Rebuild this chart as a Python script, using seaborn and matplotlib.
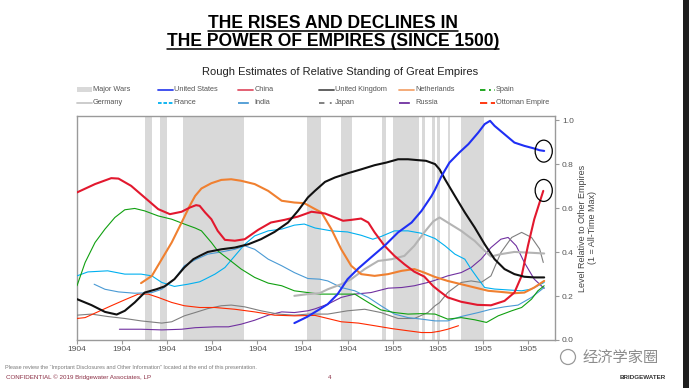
import matplotlib
matplotlib.use("Agg")
import matplotlib.pyplot as plt
import seaborn as sns
from matplotlib.patches import Ellipse, Rectangle
from matplotlib.lines import Line2D

# ---- data ----
china_years = [1500, 1520, 1538, 1546, 1560, 1575, 1590, 1603, 1616, 1625, 1632, 1636, 1642, 1649,
               1656, 1664, 1675, 1686, 1701, 1715, 1730, 1745, 1760, 1775, 1786, 1795, 1804, 1815,
               1823, 1830, 1841, 1852, 1863, 1874, 1885, 1895, 1902, 1911, 1926, 1944, 1959, 1974,
               1985, 1993, 2000, 2007, 2017]
china_vals = [.672, .710, .737, .735, .702, .649, .596, .573, .584, .603, .614, .611, .581, .550,
              .497, .456, .452, .459, .502, .535, .547, .562, .584, .576, .558, .543, .547, .553,
              .535, .490, .429, .383, .345, .311, .289, .245, .222, .194, .174, .160, .158, .178,
              .216, .292, .429, .550, .679]

us_years = [1741, 1755, 1769, 1778, 1789, 1800, 1812, 1826, 1841, 1856, 1871, 1882, 1893, 1897,
            1904, 1913, 1924, 1934, 1945, 1952, 1958, 1963, 1974, 1985, 1996, 2007, 2013, 2018]
us_vals = [.077, .105, .140, .163, .209, .277, .326, .376, .429, .490, .535, .588, .655, .685,
           .745, .808, .854, .892, .945, .983, .998, .975, .937, .899, .884, .872, .864, .861]

uk_years = [1500, 1516, 1531, 1544, 1553, 1564, 1575, 1588, 1597, 1608, 1619, 1629, 1636, 1645,
            1660, 1675, 1690, 1704, 1719, 1734, 1745, 1756, 1764, 1775, 1786, 1800, 1815, 1830,
            1843, 1856, 1867, 1878, 1887, 1897, 1902, 1908, 1919, 1930, 1941, 1952, 1963, 1974,
            1985, 1996, 2007, 2018]
uk_vals = [.186, .159, .128, .116, .133, .171, .216, .231, .244, .277, .330, .368, .383, .401,
           .413, .421, .436, .459, .492, .535, .588, .649, .680, .720, .740, .759, .777, .796,
           .808, .823, .823, .819, .816, .801, .777, .732, .656, .581, .512, .436, .368, .323,
           .300, .288, .285, .285]

nl_years = [1571, 1583, 1594, 1605, 1616, 1625, 1631, 1638, 1649, 1660, 1671, 1682, 1697, 1712,
            1727, 1741, 1752, 1764, 1771, 1782, 1793, 1804, 1815, 1830, 1845, 1860, 1874, 1885,
            1897, 1911, 1926, 1941, 1956, 1970, 1985, 1996, 2007, 2018]
nl_vals = [.259, .292, .368, .444, .535, .611, .656, .690, .714, .729, .732, .725, .710, .679,
           .634, .626, .623, .596, .581, .505, .413, .338, .300, .292, .300, .315, .323, .307,
           .287, .269, .254, .239, .224, .219, .213, .216, .239, .269]

spain_years = [1500, 1509, 1520, 1531, 1542, 1553, 1564, 1575, 1590, 1605, 1619, 1631, 1638, 1649,
               1656, 1668, 1682, 1697, 1712, 1727, 1741, 1756, 1769, 1778, 1793, 1808, 1823, 1837,
               1852, 1867, 1882, 1897, 1902, 1911, 1926, 1941, 1954, 1967, 1982, 1993, 2004, 2011,
               2018]
spain_vals = [.247, .353, .444, .505, .558, .593, .599, .588, .565, .550, .528, .510, .497, .444,
              .406, .368, .323, .285, .259, .247, .224, .216, .209, .209, .209, .209, .171, .137,
              .125, .118, .120, .118, .110, .095, .102, .092, .080, .110, .133, .148, .186, .224,
              .247]

germany_years = [1741, 1756, 1769, 1778, 1793, 1804, 1819, 1834, 1849, 1863, 1874, 1885, 1895,
                 1902, 1911, 1926, 1941, 1952, 1959, 1970, 1985, 2000, 2018]
germany_vals = [.201, .209, .213, .231, .254, .277, .323, .360, .368, .383, .429, .490, .540,
                .558, .535, .497, .451, .406, .380, .391, .401, .398, .394]

france_years = [1500, 1512, 1534, 1553, 1571, 1583, 1594, 1608, 1623, 1636, 1642, 1653, 1664,
                1675, 1686, 1697, 1712, 1727, 1741, 1752, 1764, 1782, 1800, 1815, 1828, 1837,
                1852, 1867, 1882, 1897, 1908, 1919, 1930, 1937, 1945, 1952, 1963, 1978, 1993,
                2004, 2018]
france_vals = [.292, .310, .315, .300, .300, .292, .262, .244, .254, .265, .277, .300, .330,
               .383, .436, .474, .497, .505, .523, .528, .510, .497, .492, .477, .459, .471,
               .497, .497, .486, .462, .429, .391, .368, .323, .277, .239, .232, .228, .224,
               .232, .262]

india_years = [1519, 1531, 1546, 1564, 1583, 1594, 1608, 1619, 1631, 1645, 1660, 1675, 1686,
               1697, 1712, 1727, 1741, 1756, 1769, 1778, 1793, 1808, 1823, 1837, 1852, 1867,
               1882, 1897, 1911, 1926, 1945, 1959, 1974, 1989, 2004, 2018]
india_vals = [.254, .231, .219, .213, .216, .231, .277, .338, .365, .391, .401, .413, .429,
              .413, .368, .338, .307, .280, .277, .269, .239, .224, .194, .156, .118, .102,
              .095, .087, .087, .107, .125, .140, .151, .159, .194, .239]

japan_years = [1500, 1516, 1534, 1553, 1571, 1594, 1605, 1619, 1631, 1645, 1660, 1671, 1686,
               1704, 1723, 1741, 1756, 1769, 1778, 1800, 1819, 1837, 1856, 1874, 1889, 1897,
               1902, 1911, 1926, 1937, 1948, 1959, 1970, 1982, 1993, 2004, 2013, 2017]
japan_vals = [.113, .118, .107, .098, .087, .077, .083, .110, .125, .143, .156, .159, .151,
              .133, .118, .113, .118, .118, .118, .133, .140, .125, .098, .098, .125, .156,
              .170, .216, .262, .269, .262, .292, .398, .467, .490, .467, .414, .353]

russia_years = [1547, 1571, 1594, 1616, 1631, 1653, 1668, 1682, 1697, 1712, 1727, 1741, 1756,
                1764, 1778, 1793, 1808, 1826, 1845, 1860, 1874, 1889, 1897, 1911, 1926, 1937,
                1948, 1959, 1970, 1978, 1987, 1996, 2007, 2018]
russia_vals = [.049, .049, .046, .049, .056, .060, .060, .072, .090, .113, .128, .125, .133,
               .142, .163, .194, .209, .216, .236, .239, .247, .262, .272, .292, .307, .330,
               .368, .421, .459, .467, .429, .353, .277, .235]

ottoman_years = [1500, 1509, 1523, 1538, 1553, 1568, 1579, 1590, 1605, 1619, 1636, 1653, 1675,
                 1697, 1719, 1741, 1764, 1778, 1793, 1812, 1830, 1849, 1867, 1882, 1893, 1902,
                 1911, 1923]
ottoman_vals = [.098, .102, .128, .156, .183, .209, .209, .194, .171, .156, .148, .148, .140,
                .128, .113, .110, .112, .098, .083, .077, .065, .052, .042, .034, .034, .040,
                .049, .065]

# major wars (start, end year)
war_starts = [1575, 1592, 1618, 1755, 1793, 1838, 1850, 1882, 1894, 1899, 1911, 1926]
war_ends = [1583, 1600, 1685, 1770, 1805, 1843, 1879, 1886, 1897, 1902, 1914, 1951]

x_ticks = [1500, 1550, 1600, 1650, 1700, 1750, 1800, 1850, 1900, 1950, 2000]
x_labels = ["1904"] * 7 + ["1905"] * 4
y_ticks = [0.0, 0.2, 0.4, 0.6, 0.8, 1.0]

# name, years, values, colour, width
series = [
    ("Russia", russia_years, russia_vals, "#7030a0", 0.8),
    ("Japan", japan_years, japan_vals, "#7f7f7f", 0.8),
    ("Ottoman Empire", ottoman_years, ottoman_vals, "#ff2a00", 0.8),
    ("India", india_years, india_vals, "#4a9ad4", 0.8),
    ("France", france_years, france_vals, "#00b0f0", 0.8),
    ("Spain", spain_years, spain_vals, "#10a010", 0.8),
    ("Germany", germany_years, germany_vals, "#b4b4b4", 1.5),
    ("Netherlands", nl_years, nl_vals, "#f08030", 1.5),
    ("China", china_years, china_vals, "#e2182e", 1.5),
    ("United Kingdom", uk_years, uk_vals, "#111111", 1.5),
    ("United States", us_years, us_vals, "#1f2ff5", 1.5),
]

sns.set_theme(style="white")
plt.rcParams['font.family'] = ['Liberation Sans', 'DejaVu Sans']

W, H = 689, 388
fig = plt.figure(figsize=(W / 100, H / 100), dpi=100)
fig.patch.set_facecolor("white")


def fx(px):
    return px / W


def fy(py):
    return 1 - py / H


ax = fig.add_axes([fx(77), fy(340), fx(555) - fx(77), fy(116) - fy(340)])

for s, e in zip(war_starts, war_ends):
    ax.axvspan(s, e, color="#d9d9d9", lw=0, zorder=0)

for name, yrs, vals, color, lw in series:
    sns.lineplot(x=yrs, y=vals, color=color, lw=lw, ax=ax, estimator=None, zorder=3)

# circles round the latest US and China readings
ax.add_patch(Ellipse((2017.5, 0.86), 19, 0.10, fill=False, ec="black", lw=0.9, zorder=4))
ax.add_patch(Ellipse((2017.5, 0.681), 19, 0.10, fill=False, ec="black", lw=0.9, zorder=4))

ax.set_xlim(1500, 2030)
ax.set_ylim(0, 1.02)
ax.set_xticks(x_ticks)
ax.set_xticklabels(x_labels)
ax.set_yticks(y_ticks)
ax.set_yticklabels([f"{v:.1f}" for v in y_ticks])
ax.yaxis.tick_right()
ax.yaxis.set_label_position("right")
ax.set_xlabel("")
ax.set_ylabel("Level Relative to Other Empires\n(1 = All-Time Max)", fontsize=6.5,
              color="#444444", labelpad=3, linespacing=1.1)
for sp in ax.spines.values():
    sp.set_color("#9a9a9a")
    sp.set_linewidth(1)
ax.tick_params(axis="x", bottom=True, length=3, width=0.8, color="#9a9a9a",
               labelsize=6, labelcolor="#555555", pad=1.5)
ax.tick_params(axis="y", right=True, left=False, length=3, width=0.8, color="#9a9a9a",
               labelsize=6, labelcolor="#555555", pad=2)
ax.grid(False)

# titles (condensed look: size chosen so the second line is ~334 px wide)
t1 = fig.text(0.483, fy(28.5), "THE RISES AND DECLINES IN", ha="center", va="baseline",
              fontsize=14, color="black", weight="bold")
t2 = fig.text(0.483, fy(46.5), "THE POWER OF EMPIRES (SINCE 1500)", ha="center",
              va="baseline", fontsize=14, color="black", weight="bold")
fig.canvas.draw()
renderer = fig.canvas.get_renderer()
size = 14 * 334 / t2.get_window_extent(renderer).width
t1.set_fontsize(size)
t2.set_fontsize(size)

fig.text(0.493, fy(72), "Rough Estimates of Relative Standing of Great Empires", ha="center",
         va="center", fontsize=8, color="#222222")

fig.canvas.draw()
for t, uy in ((t1, 30.8), (t2, 49.0)):
    bb = t.get_window_extent(renderer)
    fig.add_artist(Line2D([fx(bb.x0), fx(bb.x1)], [fy(uy), fy(uy)], color="black", lw=1.1,
                          transform=fig.transFigure))

# legend, laid out as in the original (row by row)
legend_rows = [
    [("Major Wars", "#d9d9d9", "patch"), ("United States", "#3344ee", "-"),
     ("China", "#e05468", "-"), ("United Kingdom", "#555555", "-"),
     ("Netherlands", "#f3a56e", "-"), ("Spain", "#10a010", (0, (3, 2, 1, 2)))],
    [("Germany", "#c8c8c8", "-"), ("France", "#00b0f0", (0, (2, 1))),
     ("India", "#4a9ad4", (0, (6, 3, 1, 3))), ("Japan", "#777777", (0, (3, 3, 1, 3))),
     ("Russia", "#7030a0", (0, (6, 3, 1, 3))), ("Ottoman Empire", "#ff2a00", (0, (4, 2)))],
]
for r, row in enumerate(legend_rows):
    y = 89.5 + r * 13
    for c, (label, color, style) in enumerate(row):
        x0 = 77 + c * 80.6
        if style == "patch":
            fig.add_artist(Rectangle((fx(x0), fy(y + 2.5)), fx(15), 5 / H, color=color,
                                     transform=fig.transFigure, lw=0))
        else:
            fig.add_artist(Line2D([fx(x0), fx(x0 + 15)], [fy(y), fy(y)], color=color, lw=1.3,
                                  ls=style, transform=fig.transFigure))
        fig.text(fx(x0 + 16), fy(y), label, fontsize=5.3, color="#555555", ha="left",
                 va="center")

# footer
fig.text(fx(5), fy(367.5),
         "Please review the \u201cImportant Disclosures and Other Information\u201d located at the end of this presentation.",
         fontsize=4.0, color="#7a7a7a", ha="left", va="center")
fig.text(fx(6), fy(377.5), "CONFIDENTIAL \u00a9 2019 Bridgewater Associates, LP", fontsize=4.5,
         color="#8b2f45", ha="left", va="center")
fig.text(fx(330), fy(377.5), "4", fontsize=4.5, color="#8b2f45", ha="center", va="center")
fig.text(fx(643), fy(377.5), "BRIDGEWATER", fontsize=4.5, color="#333333", ha="center",
         va="center", weight="bold")

# watermark
fig.add_artist(Ellipse((fx(568), fy(357)), 15 / W, 15 / H, fill=False, ec="#9a9a9a", lw=0.9,
                       transform=fig.transFigure))
fig.text(fx(583), fy(357), "经济学家圈", fontsize=11, color="#8c8c8c", ha="left", va="center",
         family=["Noto Sans CJK SC", "DejaVu Sans"])

# dark strip at the right edge of the slide
fig.add_artist(Rectangle((fx(683), 0), 6 / W, 1, color="#1e1e1e", lw=0,
                         transform=fig.transFigure))

fig.savefig("out.png", dpi=100)
